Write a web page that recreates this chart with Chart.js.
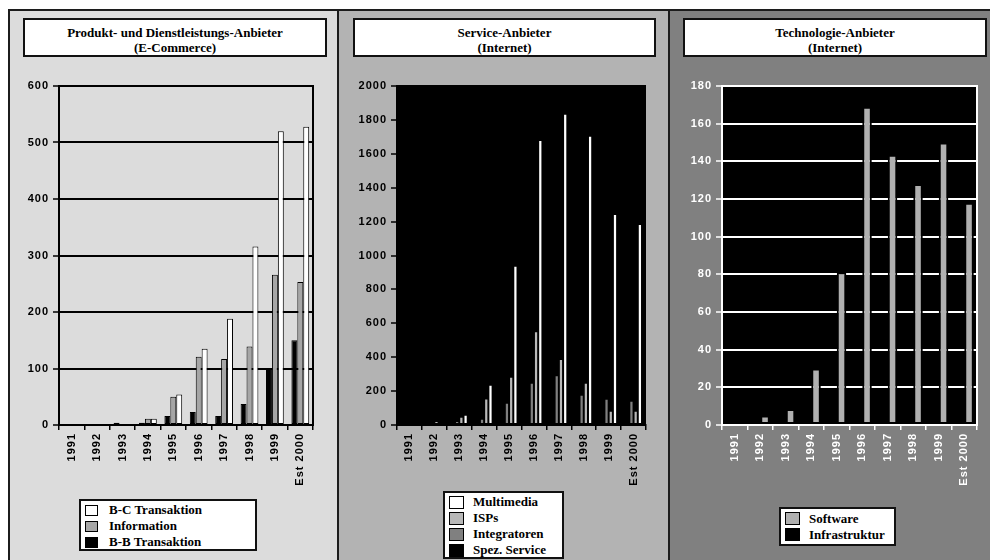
<!DOCTYPE html>
<html>
<head>
<meta charset="utf-8">
<script src="https://cdn.jsdelivr.net/npm/chart.js@4"></script>
<style>
  body { margin:0; width:990px; height:560px; overflow:hidden; background:#fff; position:relative;
         font-family:"Liberation Serif","Times New Roman",serif; }
  .panel { position:absolute; top:9px; height:560px; border:2px solid #1c1c1c; border-bottom:none; box-sizing:border-box; }
  .title { position:absolute; top:18px; height:39px; background:#fff; border:2px solid #111; box-sizing:border-box;
           text-align:center; font-weight:bold; font-size:13px; line-height:15px; padding-top:5px; color:#000; }
  .legend { position:absolute; background:#fff; border:2px solid #111; box-sizing:border-box;
            font-weight:bold; font-size:13px; color:#000; }
  .legend .row { position:relative; white-space:nowrap; }
  .legend .sw { position:absolute; box-sizing:border-box; border:1.5px solid #000; }
  canvas { position:absolute; }
</style>
</head>
<body>

<div class="panel" style="left:8px;width:331px;background:#dcdcdc"></div>
<div class="panel" style="left:337px;width:333px;background:#b3b3b3"></div>
<div class="panel" style="left:668px;width:340px;background:#808080"></div>

<div class="title" style="left:23px;width:304px">Produkt- und Dienstleistungs-Anbieter<br>(E-Commerce)</div>
<div class="title" style="left:353px;width:303px">Service-Anbieter<br>(Internet)</div>
<div class="title" style="left:683px;width:304px">Technologie-Anbieter<br>(Internet)</div>

<canvas id="c1" width="322" height="430" style="left:9px;top:70px"></canvas>
<canvas id="c2" width="325" height="430" style="left:337px;top:70px"></canvas>
<canvas id="c3" width="320" height="430" style="left:668px;top:70px"></canvas>

<div class="legend" id="lg1" style="left:79px;top:499px;width:178px;height:52px"></div>
<div class="legend" id="lg2" style="left:443px;top:491px;width:121px;height:68px"></div>
<div class="legend" id="lg3" style="left:779px;top:507px;width:117px;height:39px"></div>

<script>
// ————— Data —————
const years = ['1991', '1992', '1993', '1994', '1995', '1996', '1997', '1998', '1999', 'Est 2000'];

// Produkt- und Dienstleistungs-Anbieter (E-Commerce)
const bbTransaktion = [0, 0, 4, 4, 16, 23, 16, 37, 100, 150];
const information   = [0, 0, 0, 11, 50, 121, 117, 139, 266, 253];
const bcTransaktion = [0, 0, 0, 11, 54, 135, 188, 316, 520, 528];
const yTicks1 = [0, 100, 200, 300, 400, 500, 600];

// Service-Anbieter (Internet)
const spezService  = [0, 0, 5, 10, 20, 30, 40, 40, 50, 50];
const integratoren = [0, 0, 24, 37, 131, 249, 294, 178, 155, 143];
const isps         = [0, 24, 49, 157, 284, 553, 390, 249, 84, 84];
const multimedia   = [12, 14, 61, 237, 940, 1681, 1837, 1707, 1245, 1186];
const yTicks2 = [0, 200, 400, 600, 800, 1000, 1200, 1400, 1600, 1800, 2000];

// Technologie-Anbieter (Internet)
const infrastruktur = [1, 1, 1, 1, 1, 1, 1, 1, 1, 1];
const software      = [0, 5, 8.5, 30, 81, 169, 143.5, 128, 150, 118];
const yTicks3 = [0, 20, 40, 60, 80, 100, 120, 140, 160, 180];

// ————— Plugins —————
const plotFrame = {
  id: 'plotFrame',
  beforeDraw(chart, args, o) {
    chart.ctx.letterSpacing = '1px';   // spaced axis digits, as in the original
    if (!o.fill) return;
    const a = chart.chartArea, ctx = chart.ctx;
    ctx.save();
    ctx.fillStyle = o.fill;
    ctx.fillRect(a.left, a.top, a.right - a.left, a.bottom - a.top);
    ctx.restore();
  },
  beforeDatasetsDraw(chart, args, o) {
    if (!o.stroke) return;
    const a = chart.chartArea, ctx = chart.ctx;
    ctx.save();
    ctx.strokeStyle = o.stroke;
    ctx.lineWidth = o.width || 2;
    ctx.strokeRect(a.left, a.top, a.right - a.left, a.bottom - a.top);
    ctx.restore();
  },
  afterDraw(chart) {
    chart.ctx.letterSpacing = '0px';
  }
};

// ————— Chart factory —————
function makeChart(id, datasets, opt) {
  const fontAx = { family: '"Liberation Sans", Arial, sans-serif', size: 11, weight: 'bold' };
  return new Chart(document.getElementById(id), {
    type: 'bar',
    data: { labels: years, datasets },
    plugins: [plotFrame],
    options: {
      responsive: false,
      animation: false,
      layout: { padding: { left: 0, top: 16, right: opt.padRight, bottom: 0 } },
      datasets: { bar: { categoryPercentage: opt.catPct, barPercentage: 1, borderSkipped: false } },
      plugins: {
        legend: { display: false },
        tooltip: { enabled: false },
        plotFrame: { fill: opt.plotBg, stroke: opt.frame, width: 2 }
      },
      scales: {
        x: {
          grid: { display: true, drawOnChartArea: false, drawTicks: true, tickLength: 5, color: opt.axisColor, lineWidth: 1.5 },
          border: { display: true, color: opt.axisColor, width: 2 },
          ticks: { color: opt.textColor, font: fontAx, minRotation: 90, maxRotation: 90, padding: 3, autoSkip: false },
          afterFit: s => { s.height = 75; }
        },
        y: {
          min: 0,
          max: opt.yTicks[opt.yTicks.length - 1],
          afterBuildTicks: s => { s.ticks = opt.yTicks.map(v => ({ value: v })); },
          grid: { color: opt.gridColor, lineWidth: 2, tickLength: 6, tickColor: opt.axisColor, tickWidth: 1.5 },
          border: { display: true, color: opt.axisColor, width: 2 },
          ticks: { color: opt.textColor, font: fontAx, padding: 4, callback: v => String(v) },
          afterFit: s => { s.width = opt.yWidth; }
        }
      }
    }
  });
}

// Panel 1
const ds1 = [
  { label: 'B-B Transaktion', data: bbTransaktion, backgroundColor: '#000000', borderColor: '#000', borderWidth: 1 },
  { label: 'Information',     data: information,   backgroundColor: '#a6a6a6', borderColor: '#000', borderWidth: 1 },
  { label: 'B-C Transaktion', data: bcTransaktion, backgroundColor: '#ffffff', borderColor: '#000', borderWidth: 1 }
];
makeChart('c1', ds1, {
  padRight: 18, yWidth: 50, catPct: 0.70, yTicks: yTicks1,
  plotBg: null, frame: '#000', axisColor: '#000', gridColor: '#000', textColor: '#000'
});

// Panel 2
const ds2 = [
  { label: 'Spez. Service', data: spezService,  backgroundColor: '#000000', borderColor: '#000', borderWidth: 1 },
  { label: 'Integratoren',  data: integratoren, backgroundColor: '#808080', borderColor: '#000', borderWidth: 1 },
  { label: 'ISPs',          data: isps,         backgroundColor: '#b8b8b8', borderColor: '#000', borderWidth: 1 },
  { label: 'Multimedia',    data: multimedia,   backgroundColor: '#ffffff', borderColor: '#000', borderWidth: 1 }
];
makeChart('c2', ds2, {
  padRight: 16, yWidth: 60, catPct: 0.68, yTicks: yTicks2,
  plotBg: '#000', frame: null, axisColor: '#000', gridColor: '#000', textColor: '#000'
});

// Panel 3
const ds3 = [
  { label: 'Infrastruktur', data: infrastruktur, backgroundColor: '#000000', borderColor: '#000', borderWidth: 2 },
  { label: 'Software',      data: software,      backgroundColor: '#b0b0b0', borderColor: '#000', borderWidth: 2 }
];
makeChart('c3', ds3, {
  padRight: 11, yWidth: 54, catPct: 0.75, yTicks: yTicks3,
  plotBg: '#000', frame: '#fff', axisColor: '#fff', gridColor: '#fff', textColor: '#fff'
});

// ————— HTML legends (reverse order, like the original) —————
function buildLegend(id, datasets, sw, rowH, padTop) {
  const el = document.getElementById(id);
  el.style.paddingTop = padTop + 'px';
  datasets.slice().reverse().forEach(d => {
    const row = document.createElement('div');
    row.className = 'row';
    row.style.height = rowH + 'px';
    row.style.lineHeight = rowH + 'px';
    row.style.paddingLeft = '28px';
    const box = document.createElement('span');
    box.className = 'sw';
    box.style.left = '4px';
    box.style.width = sw[0] + 'px';
    box.style.height = sw[1] + 'px';
    box.style.top = ((rowH - sw[1]) / 2) + 'px';
    box.style.background = d.backgroundColor;
    row.appendChild(box);
    row.appendChild(document.createTextNode(d.label));
    el.appendChild(row);
  });
}
buildLegend('lg1', ds1, [13, 11], 16, 1);
buildLegend('lg2', ds2, [15, 13], 16, 1);
buildLegend('lg3', ds3, [15, 13], 15.5, 2);
</script>
</body>
</html>
